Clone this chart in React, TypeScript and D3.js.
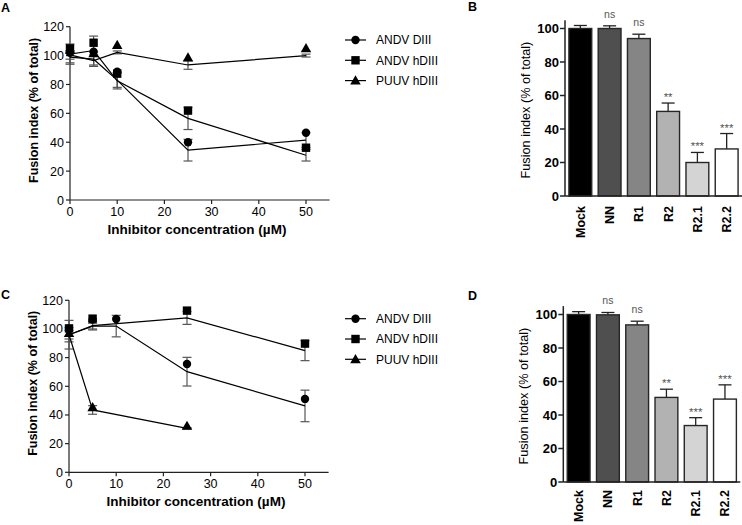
import React from "react";
import * as d3 from "d3";

// ---------- Data ----------
const seriesNames = ["ANDV DIII", "ANDV hDIII", "PUUV hDIII"];
const xTicks = [0, 10, 20, 30, 40, 50];
const yTicksLine = [0, 20, 40, 60, 80, 100, 120];
const yTicksBar = [0, 20, 40, 60, 80, 100];

// Panel A (concentration, line mean, marker value, SEM)
const concA = [0, 5, 10, 25, 50];
const aDIII_mean = [99, 97.5, 83, 34.5, 41.5];
const aDIII_mark = [102, 102.7, 88.9, 40, 46.6];
const aDIII_sem = [4, 5, 5, 7.5, 5];
const aHDIII_mean = [101, 103.5, 82.5, 56.5, 31];
const aHDIII_mark = [105, 108.9, 87.5, 61.9, 36.2];
const aHDIII_sem = [7, 10, 5.6, 7.7, 4];
const aPUUV_mean = [100.5, 96.5, 102.2, 93.5, 100];
const aPUUV_mark = [104, 101.5, 107.3, 98.6, 105];
const aPUUV_sem = [3, 4, 1, 3, 1];

// Panel C
const concC = [0, 5, 10, 25, 50];
const concC_PUUV = [0, 5, 25];
const cDIII_mean = [96, 102, 102, 70.2, 46.3];
const cDIII_mark = [100, 106.5, 107, 75.6, 51.2];
const cDIII_sem = [5, 2, 7.5, 10, 11];
const cHDIII_x = [0, 5, 25, 50];
const cHDIII_mean = [96, 102.3, 107.7, 84.9];
const cHDIII_mark = [100.4, 107.2, 112.8, 89.8];
const cHDIII_sem = [10, 3, 4.5, 7];
const cPUUV_mean = [96, 43.5, 30.7];
const cPUUV_mark = [97, 45.3, 32.3];
const cPUUV_sem = [3, 3, 0.5];

// Bar panels
const barCats = ["Mock", "NN", "R1", "R2", "R2.1", "R2.2"];
const barFills = ["#000000", "#4f4f4f", "#858585", "#b2b2b2", "#d4d4d4", "#ffffff"];
const bValues = [100, 100, 94, 50.5, 20, 28.1];
const bErr = [1.8, 1.6, 2.6, 5, 6, 9.2];
const bSig = ["", "ns", "ns", "**", "***", "***"];
const dValues = [100, 99.8, 93.8, 50.5, 33.7, 49.5];
const dErr = [1.7, 1.4, 2.2, 4.9, 4.7, 8.5];
const dSig = ["", "ns", "ns", "**", "***", "***"];

const FONT = "'Liberation Sans', Arial, Helvetica, sans-serif";

type Marker = "circle" | "square" | "triangle";

function MarkerShape({ type, x, y }: { type: Marker; x: number; y: number }) {
  if (type === "circle") return <circle cx={x} cy={y} r={4.2} fill="#000" />;
  if (type === "square") return <rect x={x - 4.2} y={y - 4.2} width={8.4} height={8.4} fill="#000" />;
  const s = d3.symbol().type(d3.symbolTriangle).size(48)() as string;
  return <path d={s} transform={`translate(${x},${y + 0.8})`} fill="#000" />;
}

interface Series {
  name: string;
  marker: Marker;
  xs: number[];
  mean: number[];
  mark: number[];
  sem: number[];
}

function LinePanel({
  x0, y0, yTop, series, letter, letterY, legendY,
}: {
  x0: number; y0: number; yTop: number; series: Series[]; letter: string; letterY: number; legendY: number;
}) {
  const x = d3.scaleLinear().domain([0, 55]).range([x0, x0 + 259.6]);
  const y = d3.scaleLinear().domain([0, 120]).range([y0, yTop]);
  const line = d3.line<[number, number]>().x((d) => x(d[0])).y((d) => y(d[1]));
  const order: Series[] = [series[2], series[1], series[0]];
  return (
    <g fontFamily={FONT}>
      <text x={1} y={letterY} fontSize={12.5} fontWeight="bold">{letter}</text>
      {/* y axis */}
      <line x1={x0} x2={x0} y1={y(0)} y2={y(120)} stroke="#222" strokeWidth={1.2} />
      {yTicksLine.map((t) => (
        <g key={t}>
          <line x1={x0 - 4} x2={x0} y1={y(t)} y2={y(t)} stroke="#222" strokeWidth={1.2} />
          <text x={x0 - 6} y={y(t)} dy="0.36em" textAnchor="end" fontSize={12.5}>{t}</text>
        </g>
      ))}
      {/* x axis */}
      <line x1={x0} x2={x(55)} y1={y0} y2={y0} stroke="#222" strokeWidth={1.2} />
      {xTicks.map((t) => (
        <g key={t}>
          <line x1={x(t)} x2={x(t)} y1={y0} y2={y0 + 4} stroke="#222" strokeWidth={1.2} />
          <text x={x(t)} y={y0 + 16} textAnchor="middle" fontSize={12.5}>{t}</text>
        </g>
      ))}
      <text x={x0 + 127} y={y0 + 34} textAnchor="middle" fontSize={13.5} fontWeight="bold">
        Inhibitor concentration (µM)
      </text>
      <text transform={`translate(${x0 - 32},${(y(0) + y(120)) / 2 - 3}) rotate(-90)`} textAnchor="middle" fontSize={12.5} fontWeight="bold">
        Fusion index (% of total)
      </text>
      {/* error bars */}
      {order.map((s) => (
        <g key={s.name + "e"} stroke="#555" strokeWidth={1.2}>
          {s.xs.map((c, i) => (
            <g key={i}>
              <line x1={x(c)} x2={x(c)} y1={y(s.mean[i] - s.sem[i])} y2={y(s.mean[i] + s.sem[i])} />
              <line x1={x(c) - 4.5} x2={x(c) + 4.5} y1={y(s.mean[i] - s.sem[i])} y2={y(s.mean[i] - s.sem[i])} />
              <line x1={x(c) - 4.5} x2={x(c) + 4.5} y1={y(s.mean[i] + s.sem[i])} y2={y(s.mean[i] + s.sem[i])} />
            </g>
          ))}
        </g>
      ))}
      {/* lines */}
      {order.map((s) => (
        <path key={s.name + "l"} d={line(s.xs.map((c, i) => [c, s.mean[i]]) as [number, number][]) || ""} fill="none" stroke="#000" strokeWidth={1.2} />
      ))}
      {/* markers */}
      {order.map((s) => (
        <g key={s.name + "m"}>
          {s.xs.map((c, i) => (
            <MarkerShape key={i} type={s.marker} x={x(c)} y={y(s.mark[i])} />
          ))}
        </g>
      ))}
      {/* legend */}
      {series.map((s, i) => (
        <g key={s.name + "lg"} transform={`translate(0,${legendY + i * 20.3})`}>
          <line x1={345} x2={366} y1={0} y2={0} stroke="#000" strokeWidth={1.2} />
          <MarkerShape type={s.marker} x={355.5} y={0} />
          <text x={376} y={0} dy="0.36em" fontSize={12}>{s.name}</text>
        </g>
      ))}
    </g>
  );
}

function BarPanel({
  axisX, y0, values, errs, sig, letter, letterY, labelTop,
}: {
  axisX: number; y0: number; values: number[]; errs: number[]; sig: string[]; letter: string; letterY: number; labelTop: number;
}) {
  const y = d3.scaleLinear().domain([0, 105]).range([y0, y0 - 1.675 * 105]);
  const x = d3.scaleBand<string>().domain(barCats).range([axisX + 1, axisX + 176]).paddingInner(0.22).paddingOuter(0.1);
  return (
    <g fontFamily={FONT}>
      <text x={468} y={letterY} fontSize={12.5} fontWeight="bold">{letter}</text>
      <text transform={`translate(${axisX - 35},${(y(0) + y(105)) / 2 + 2}) rotate(-90)`} textAnchor="middle" fontSize={12.7}>
        Fusion index (% of total)
      </text>
      {/* bars */}
      {barCats.map((c, i) => {
        const bx = x(c) as number;
        const bw = x.bandwidth();
        const cx = bx + bw / 2;
        const top = y(values[i]);
        const et = y(values[i] + errs[i]);
        return (
          <g key={c}>
            <line x1={cx} x2={cx} y1={top} y2={et} stroke="#222" strokeWidth={1.3} />
            <line x1={cx - 6.5} x2={cx + 6.5} y1={et} y2={et} stroke="#222" strokeWidth={1.3} />
            <rect x={bx} y={top} width={bw} height={y(0) - top} fill={barFills[i]} stroke="#262626" strokeWidth={1.4} />
            {sig[i] && (
              <text x={cx} y={sig[i] === "ns" ? et - 8 : et - 2} textAnchor="middle" fontSize={sig[i] === "ns" ? 10.5 : 11.5} fill="#555">
                {sig[i]}
              </text>
            )}
            <text transform={`translate(${cx},${labelTop}) rotate(-90)`} dy="0.36em" textAnchor="end" fontSize={12.5} fontWeight="bold">
              {c}
            </text>
          </g>
        );
      })}
      {/* axes */}
      <line x1={axisX} x2={axisX} y1={y(0)} y2={y(105)} stroke="#222" strokeWidth={1.5} />
      <line x1={axisX} x2={axisX + 177} y1={y0} y2={y0} stroke="#222" strokeWidth={1.5} />
      {yTicksBar.map((t) => (
        <g key={t}>
          <line x1={axisX - 5} x2={axisX} y1={y(t)} y2={y(t)} stroke="#222" strokeWidth={1.5} />
          <text x={axisX - 6} y={y(t)} dy="0.36em" textAnchor="end" fontSize={13} fontWeight="bold">{t}</text>
        </g>
      ))}
    </g>
  );
}

export default function App() {
  const seriesA: Series[] = [
    { name: seriesNames[0], marker: "circle", xs: concA, mean: aDIII_mean, mark: aDIII_mark, sem: aDIII_sem },
    { name: seriesNames[1], marker: "square", xs: concA, mean: aHDIII_mean, mark: aHDIII_mark, sem: aHDIII_sem },
    { name: seriesNames[2], marker: "triangle", xs: concA, mean: aPUUV_mean, mark: aPUUV_mark, sem: aPUUV_sem },
  ];
  const seriesC: Series[] = [
    { name: seriesNames[0], marker: "circle", xs: concC, mean: cDIII_mean, mark: cDIII_mark, sem: cDIII_sem },
    { name: seriesNames[1], marker: "square", xs: cHDIII_x, mean: cHDIII_mean, mark: cHDIII_mark, sem: cHDIII_sem },
    { name: seriesNames[2], marker: "triangle", xs: concC_PUUV, mean: cPUUV_mean, mark: cPUUV_mark, sem: cPUUV_sem },
  ];
  return (
    <svg width={742} height={525} style={{ position: "absolute", left: 0, top: 0, background: "#fff" }}>
      <rect width={742} height={525} fill="#fff" />
      <LinePanel x0={70} y0={200} yTop={26.7} series={seriesA} letter="A" letterY={11.7} legendY={40} />
      <LinePanel x0={69} y0={472.3} yTop={300.3} series={seriesC} letter="C" letterY={299.3} legendY={318.7} />
      <BarPanel axisX={565} y0={196} values={bValues} errs={bErr} sig={bSig} letter="B" letterY={10.5} labelTop={206} />
      <BarPanel axisX={563.3} y0={482} values={dValues} errs={dErr} sig={dSig} letter="D" letterY={300} labelTop={490} />
    </svg>
  );
}
